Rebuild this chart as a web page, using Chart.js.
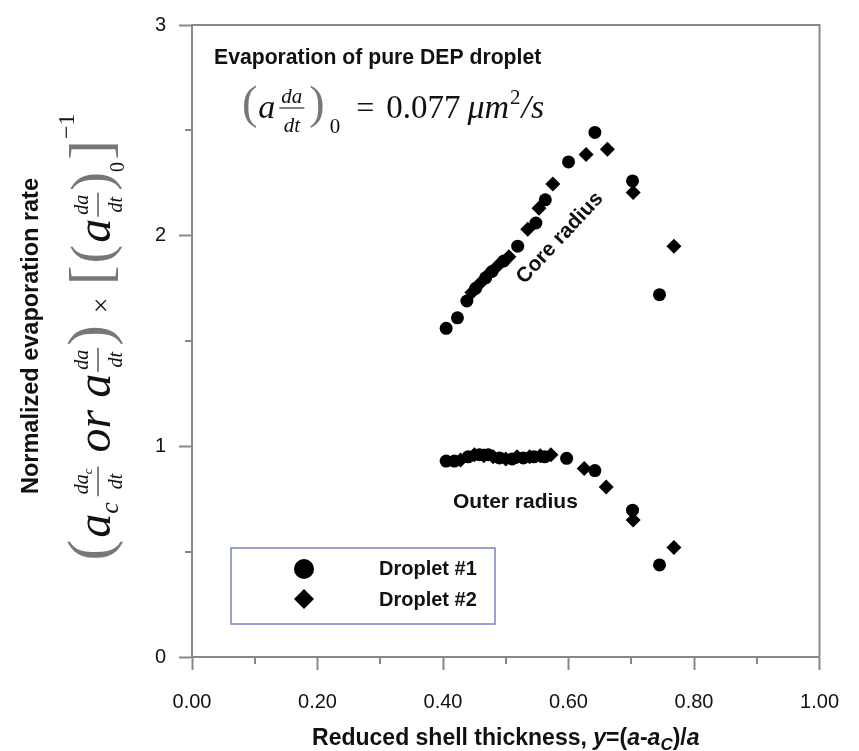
<!DOCTYPE html>
<html>
<head>
<meta charset="utf-8">
<script src="https://cdn.jsdelivr.net/npm/chart.js@4.4.0/dist/chart.umd.min.js"></script>
<style>
  html, body { margin: 0; padding: 0; background: #fff; }
  canvas { display: block; }
</style>
</head>
<body>
<canvas id="grafica" width="859" height="751"></canvas>
<script>
// datos
var serieNombres = ["Droplet #1", "Droplet #2"];

var coreX1 = [0.405, 0.423, 0.438, 0.452, 0.468, 0.478, 0.497, 0.519, 0.548, 0.563, 0.600, 0.642, 0.702, 0.745];
var coreY1 = [1.56, 1.61, 1.69, 1.75, 1.80, 1.83, 1.88, 1.95, 2.06, 2.17, 2.35, 2.49, 2.26, 1.72];
var coreX2 = [0.446, 0.458, 0.470, 0.488, 0.505, 0.535, 0.553, 0.575, 0.628, 0.662, 0.703, 0.768];
var coreY2 = [1.73, 1.77, 1.81, 1.86, 1.90, 2.03, 2.13, 2.245, 2.385, 2.41, 2.205, 1.95];

var outerX1 = [0.405, 0.418, 0.440, 0.458, 0.472, 0.490, 0.510, 0.528, 0.545, 0.562, 0.597, 0.642, 0.702, 0.745];
var outerY1 = [0.93, 0.93, 0.95, 0.96, 0.96, 0.945, 0.94, 0.945, 0.95, 0.95, 0.943, 0.885, 0.697, 0.437];
var outerX2 = [0.428, 0.450, 0.465, 0.480, 0.500, 0.518, 0.538, 0.555, 0.572, 0.625, 0.660, 0.703, 0.768];
var outerY2 = [0.935, 0.96, 0.955, 0.95, 0.94, 0.95, 0.95, 0.955, 0.96, 0.895, 0.807, 0.65, 0.52];

var xTicksMenores = [0.1, 0.3, 0.5, 0.7, 0.9];
var yTicksMenores = [0.5, 1.5, 2.5];

var SANS = '"Liberation Sans", Arial, sans-serif';
var SERIF = '"Liberation Serif", "Times New Roman", serif';
function f(size, style) { return (style || '') + ' ' + size + 'px ' + SERIF; }
function fs(size, style) { return (style || '') + ' ' + size + 'px ' + SANS; }

function puntos(xs, ys) {
    return xs.map(function (x, i) { return { x: x, y: ys[i] }; });
}

function serie(label, xs, ys, estilo, radio) {
    return {
        label: label,
        data: puntos(xs, ys),
        pointStyle: estilo,
        pointRadius: radio,
        pointBackgroundColor: "#000",
        pointBorderColor: "#000",
        pointBorderWidth: 0,
        showLine: false
    };
}

// formulas: lista de trozos dibujados en fila
function filaMath(ctx, partes, dibujar) {
    var x = 0;
    partes.forEach(function (p) {
        if (p.num) {
            var wn = filaMath(ctx, p.num, false);
            var wd = filaMath(ctx, p.den, false);
            var w = Math.max(wn, wd) + 4;
            if (dibujar) {
                ctx.save(); ctx.translate(x + (w - wn) / 2, p.numY); filaMath(ctx, p.num, true); ctx.restore();
                ctx.save(); ctx.translate(x + (w - wd) / 2, p.denY); filaMath(ctx, p.den, true); ctx.restore();
                ctx.fillStyle = "#333";
                ctx.fillRect(x, p.barY - 0.6, w, 1.2);
            }
            x += w + (p.gap || 0);
        } else {
            ctx.font = p.font;
            var ancho = ctx.measureText(p.s).width;
            if (dibujar) {
                ctx.fillStyle = p.color || "#111";
                ctx.fillText(p.s, x, p.dy || 0);
            }
            x += ancho + (p.gap || 0);
        }
    });
    return x;
}

function frac(num, den, size, numY, denY, barY, gap) {
    return {
        num: num.map(function (t) { return { s: t[0], font: f(t[1] || size, 'italic'), dy: t[2] || 0 }; }),
        den: den.map(function (t) { return { s: t[0], font: f(t[1] || size, 'italic'), dy: t[2] || 0 }; }),
        numY: numY, denY: denY, barY: barY, gap: gap
    };
}

var formulaY = [
    { s: "(", font: f(62), color: "#777", gap: 2 },
    { s: "a", font: f(48, 'italic') },
    { s: "c", font: f(26, 'italic'), dy: 8, gap: 6 },
    frac([["da"], ["c", 13, 4]], [["dt"]], 20, -22, 12, -12, 14),
    { s: "or", font: f(48, 'italic'), gap: 12 },
    { s: "a", font: f(48, 'italic'), gap: 2 },
    frac([["da"]], [["dt"]], 20, -22, 12, -12, 2),
    { s: ")", font: f(62), color: "#777", gap: 12 },
    { s: "\u00d7", font: f(28), gap: 12 },
    { s: "[", font: f(60), color: "#777", gap: 2 },
    { s: "(", font: f(56), color: "#777", gap: 2 },
    { s: "a", font: f(48, 'italic'), gap: 2 },
    frac([["da"]], [["dt"]], 20, -22, 12, -12, 2),
    { s: ")", font: f(56), color: "#777" },
    { s: "0", font: f(20), dy: 14, gap: 2 },
    { s: "]", font: f(60), color: "#777", gap: 1 },
    { s: "\u22121", font: f(24), dy: -36 }
];

var formulaArriba = [
    { s: "(", font: f(46), color: "#777", gap: 1 },
    { s: "a", font: f(34, 'italic'), gap: 4 },
    frac([["da"]], [["dt"]], 21, -15, 14, -10, 5),
    { s: ")", font: f(46), color: "#777", gap: 5 },
    { s: "0", font: f(21), dy: 15, gap: 16 },
    { s: "=", font: f(32), gap: 12 },
    { s: "0.077", font: f(33), gap: 7 },
    { s: "\u03bcm", font: f(34, 'italic'), gap: 1 },
    { s: "2", font: f(21), dy: -14, gap: 1 },
    { s: "/s", font: f(34, 'italic') }
];

var tituloX = [
    { s: "Reduced shell thickness, ", font: fs(23, 'bold') },
    { s: "y", font: fs(23, 'italic bold') },
    { s: "=(", font: fs(23, 'bold') },
    { s: "a", font: fs(23, 'italic bold') },
    { s: "-", font: fs(23, 'bold') },
    { s: "a", font: fs(23, 'italic bold') },
    { s: "C", font: fs(17, 'italic bold'), dy: 5 },
    { s: ")/", font: fs(23, 'bold') },
    { s: "a", font: fs(23, 'italic bold') }
];

var extras = {
    id: "extras",
    afterDraw: function (chart) {
        var ctx = chart.ctx;
        var a = chart.chartArea;
        var sx = chart.scales.x, sy = chart.scales.y;
        ctx.save();

        // marco superior y derecho
        ctx.strokeStyle = "#888";
        ctx.lineWidth = 2;
        ctx.beginPath();
        ctx.moveTo(a.left, a.top); ctx.lineTo(a.right, a.top); ctx.lineTo(a.right, a.bottom);
        ctx.stroke();

        // ticks menores
        xTicksMenores.forEach(function (v) {
            var px = Math.round(sx.getPixelForValue(v));
            ctx.beginPath(); ctx.moveTo(px, a.bottom); ctx.lineTo(px, a.bottom + 7); ctx.stroke();
        });
        yTicksMenores.forEach(function (v) {
            var py = Math.round(sy.getPixelForValue(v));
            ctx.beginPath(); ctx.moveTo(a.left, py); ctx.lineTo(a.left - 7, py); ctx.stroke();
        });

        ctx.textBaseline = "alphabetic";
        ctx.textAlign = "left";

        // titulo eje x
        var wx = filaMath(ctx, tituloX, false);
        ctx.save();
        ctx.translate((a.left + a.right) / 2 - wx / 2, 745);
        filaMath(ctx, tituloX, true);
        ctx.restore();

        // titulo eje y
        ctx.save();
        ctx.translate(32, 336);
        ctx.rotate(-Math.PI / 2);
        ctx.textAlign = "center";
        ctx.textBaseline = "middle";
        ctx.font = fs(23.5, 'bold');
        ctx.fillStyle = "#111";
        ctx.fillText("Normalized evaporation rate", 0, 0);
        ctx.restore();

        var wy = filaMath(ctx, formulaY, false);
        ctx.save();
        ctx.translate(110, 337 + wy / 2);
        ctx.rotate(-Math.PI / 2);
        filaMath(ctx, formulaY, true);
        ctx.restore();

        // anotaciones
        ctx.fillStyle = "#111";
        ctx.font = fs(21.2, 'bold');
        ctx.fillText("Evaporation of pure DEP droplet", 214, 64);

        ctx.save();
        ctx.translate(242, 118);
        filaMath(ctx, formulaArriba, true);
        ctx.restore();

        ctx.fillStyle = "#111";
        ctx.font = fs(21, 'bold');
        ctx.fillText("Outer radius", 453, 508);

        ctx.save();
        ctx.translate(560, 238);
        ctx.rotate(-47 * Math.PI / 180);
        ctx.textAlign = "center";
        ctx.textBaseline = "middle";
        ctx.fillText("Core radius", 0, 0);
        ctx.restore();

        // leyenda
        ctx.strokeStyle = "#7a84c0";
        ctx.lineWidth = 1.5;
        ctx.strokeRect(231, 548, 264, 76);
        ctx.fillStyle = "#000";
        ctx.beginPath();
        ctx.arc(304, 569, 10, 0, Math.PI * 2);
        ctx.fill();
        ctx.beginPath();
        ctx.moveTo(304, 589); ctx.lineTo(314, 599); ctx.lineTo(304, 609); ctx.lineTo(294, 599);
        ctx.closePath();
        ctx.fill();
        ctx.fillStyle = "#111";
        ctx.font = fs(20, 'bold');
        ctx.textBaseline = "middle";
        ctx.fillText(serieNombres[0], 379, 569);
        ctx.fillText(serieNombres[1], 379, 600);

        ctx.restore();
    }
};

var ctx = document.getElementById("grafica").getContext("2d");
var chart = new Chart(ctx, {
    type: "scatter",
    data: {
        datasets: [
            serie(serieNombres[0], coreX1, coreY1, "circle", 6.5),
            serie(serieNombres[0], outerX1, outerY1, "circle", 6.5),
            serie(serieNombres[1], coreX2, coreY2, "rectRot", 7.5),
            serie(serieNombres[1], outerX2, outerY2, "rectRot", 7.5)
        ]
    },
    options: {
        responsive: false,
        animation: false,
        layout: { padding: { top: 21, right: 28, left: 0, bottom: 0 } },
        plugins: {
            legend: { display: false },
            tooltip: { enabled: false }
        },
        scales: {
            x: {
                type: "linear",
                min: 0,
                max: 1,
                afterFit: function (s) { s.height = 94; },
                ticks: {
                    stepSize: 0.2,
                    padding: 20,
                    color: "#111",
                    font: { family: SANS, size: 20 },
                    callback: function (v) { return v.toFixed(2); }
                },
                grid: { drawOnChartArea: false, tickLength: 13, tickColor: "#888", tickWidth: 2 },
                border: { color: "#888", width: 2 }
            },
            y: {
                min: 0,
                max: 3,
                afterFit: function (s) { s.width = 192; },
                ticks: {
                    stepSize: 1,
                    padding: 13,
                    color: "#111",
                    font: { family: SANS, size: 20 }
                },
                grid: { drawOnChartArea: false, tickLength: 13, tickColor: "#888", tickWidth: 2 },
                border: { color: "#888", width: 2 }
            }
        }
    },
    plugins: [extras]
});
</script>
</body>
</html>
